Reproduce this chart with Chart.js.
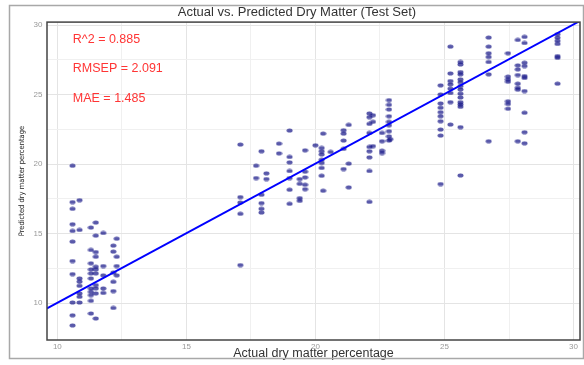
<!DOCTYPE html>
<html>
<head>
<meta charset="utf-8">
<script src="https://cdn.jsdelivr.net/npm/chart.js@4.4.1/dist/chart.umd.min.js"></script>
<style>
html,body{margin:0;padding:0;background:#fff;}
#wrap{width:584px;height:365px;}
</style>
</head>
<body>
<div id="wrap"><canvas id="dmChart" width="584" height="365"></canvas></div>
<script>

const actualDM=[
10.59,10.59,10.59,10.59,10.59,10.59,10.59,10.59,10.59,10.59,10.59,
10.86,10.86,10.86,10.86,10.86,10.86,10.86,10.86,
11.3,11.3,11.3,11.3,11.3,11.3,11.3,11.3,11.3,11.3,11.3,
11.49,11.49,11.49,11.49,11.49,11.49,11.49,11.49,11.49,11.49,11.49,
11.78,11.78,11.78,11.78,11.78,
12.17,12.17,12.17,12.17,12.17,12.17,
12.3,12.3,12.3,12.3,
17.09,17.09,17.09,17.09,17.09,
17.7,17.7,
17.91,17.91,17.91,17.91,17.91,
18.1,18.1,
18.59,18.59,
19.0,19.0,19.0,19.0,19.0,19.0,19.0,
19.39,19.39,19.39,19.39,
19.6,19.6,19.6,19.6,19.6,
20.0,
20.24,20.24,20.24,20.24,20.24,20.24,20.24,
20.3,20.3,
20.59,
21.09,21.09,21.09,21.09,21.09,
21.29,21.29,21.29,
22.09,22.09,22.09,22.09,22.09,22.09,22.09,22.09,22.09,
22.23,22.23,22.23,
22.58,22.58,22.58,22.58,
22.85,22.85,22.85,22.85,22.85,22.85,22.85,22.85,22.85,
22.9,
24.85,24.85,24.85,24.85,24.85,24.85,24.85,24.85,24.85,24.85,
25.23,25.23,25.23,25.23,25.23,25.23,25.23,25.23,
25.62,25.62,25.62,25.62,25.62,25.62,25.62,25.62,25.62,25.62,25.62,25.62,25.62,25.62,25.62,
26.71,26.71,26.71,26.71,26.71,26.71,26.71,
27.46,27.46,27.46,27.46,27.46,27.46,27.46,
27.84,27.84,27.84,27.84,27.84,27.84,27.84,27.84,
28.1,28.1,28.1,28.1,28.1,28.1,28.1,28.1,28.1,28.1,
29.38,29.38,29.38,29.38,29.38,29.38,29.38
];

const predictedDM=[
19.89,17.27,16.79,15.68,15.2,14.43,13.03,12.09,10.05,9.13,8.4,
17.41,15.27,11.78,11.55,11.25,10.7,10.46,10.05,
15.44,13.83,12.87,12.43,12.14,11.78,11.06,10.82,10.58,10.17,9.26,
15.8,14.86,13.68,13.34,12.62,12.43,12.14,11.3,11.06,10.7,8.9,
15.05,12.67,12.0,11.06,10.74,
14.14,13.71,12.2,11.54,10.87,9.66,
14.64,13.34,12.67,12.0,
21.41,17.63,17.24,16.43,12.74,
19.89,19.0,
20.93,17.8,17.2,16.79,16.52,
19.34,18.93,
21.48,20.78,
22.42,20.52,20.13,19.51,19.0,18.16,17.15,
18.93,18.59,17.56,17.36,
21.0,19.46,19.05,18.52,18.2,
21.36,
21.17,20.93,20.7,20.32,20.09,19.73,19.17,
22.2,18.09,
20.88,
22.44,22.2,21.7,21.1,19.65,
22.83,20.04,18.33,
23.65,23.38,22.9,22.25,21.24,20.93,20.49,19.51,17.29,
23.52,23.05,21.3,
22.25,21.65,20.97,20.8,
24.61,24.27,23.94,23.45,23.05,22.8,22.37,22.0,21.7,
21.8,
25.67,25.02,24.37,24.06,23.74,23.45,23.09,22.49,22.06,18.57,
28.46,26.53,25.98,25.74,25.43,25.12,24.46,22.85,
27.35,27.17,26.63,26.46,26.1,25.9,25.62,25.38,25.07,24.8,24.46,24.3,24.13,22.66,19.19,
29.11,28.46,27.98,27.71,27.35,26.46,21.65,
27.98,26.3,26.1,25.93,24.53,24.33,23.99,
28.94,27.11,26.82,26.41,25.79,25.5,25.36,21.65,
29.16,28.72,27.3,27.06,26.34,26.2,25.26,23.7,22.3,21.5,
29.35,29.1,28.87,28.65,27.78,27.65,25.79
];

// fitted line, read at the two plot edges
const fitX=[9.6,30.25];
const fitY=[9.62,30.3];

const xTickValues=[10,12.5,15,17.5,20,22.5,25,27.5,30];
const yTickValues=[10,12.5,15,17.5,20,22.5,25,27.5,30];

const statLabels=["R^2 = 0.885","RMSEP = 2.091","MAE = 1.485"];
const statAt=[29,26.85,24.75];

const FONT="'Liberation Sans', Arial, sans-serif";

Chart.defaults.font.family=FONT;

function dotImage(){

const c=document.createElement("canvas");
c.width=7;
c.height=5;
const g=c.getContext("2d");
g.fillStyle="rgba(10,10,130,0.68)";
g.beginPath();
g.ellipse(3.5,2.5,3,2.1,0,0,Math.PI*2);
g.fill();
return c;

}

function gridColor(ctx){
return ctx.tick && ctx.tick.value%5===0 ? "#e4e4e4" : "#f0f0f0";
}

const framePlugin={

id:"frame",

afterDatasetsDraw(chart){

const {ctx,scales:{x,y}}=chart;

ctx.save();
ctx.fillStyle="#ff3535";
ctx.font="12.5px "+FONT;
ctx.textBaseline="middle";
statLabels.forEach((t,i)=>{
ctx.fillText(t,x.getPixelForValue(10.6),y.getPixelForValue(statAt[i]));
});
ctx.restore();

},

afterDraw(chart){

const {ctx,chartArea}=chart;

ctx.save();
ctx.strokeStyle="#444";
ctx.lineWidth=1.5;
ctx.strokeRect(chartArea.left,chartArea.top,chartArea.right-chartArea.left,chartArea.bottom-chartArea.top);
ctx.strokeStyle="#a8a8a8";
ctx.lineWidth=1.5;
ctx.strokeRect(9.5,5.5,574,353);
ctx.restore();

}

};

const points=actualDM.map((v,i)=>({x:v,y:predictedDM[i]}));
const fitLine=fitX.map((v,i)=>({x:v,y:fitY[i]}));

new Chart(document.getElementById("dmChart"),{

type:"scatter",

data:{

datasets:[
{
type:"line",
data:fitLine,
borderColor:"#0000ff",
borderWidth:2,
pointRadius:0,
fill:false
},
{
data:points,
pointStyle:dotImage(),
pointRadius:3,
backgroundColor:"rgba(10,10,130,0.68)",
borderWidth:0
}
]

},

options:{

responsive:false,
animation:false,
events:[],

layout:{
padding:{left:12,right:2,top:0,bottom:0}
},

plugins:{
legend:{display:false},
tooltip:{enabled:false},
title:{
display:true,
text:"Actual vs. Predicted Dry Matter (Test Set)",
color:"#333",
font:{size:13,weight:"normal"},
padding:{top:5,bottom:1.5}
}
},

scales:{

x:{
type:"linear",
min:9.6,
max:30.25,
afterBuildTicks(s){s.ticks=xTickValues.map(v=>({value:v}));},
afterFit(s){s.height=25;},
grid:{color:gridColor,drawTicks:false},
border:{display:false},
ticks:{
padding:2,
color:"#999",
autoSkip:false,
maxRotation:0,
font:{size:8},
callback:v=>v%5===0?v:""
},
title:{
display:true,
text:"Actual dry matter percentage",
color:"#333",
font:{size:12.5},
padding:{top:0,bottom:3.5}
}
},

y:{
type:"linear",
min:7.35,
max:30.22,
afterBuildTicks(s){s.ticks=yTickValues.map(v=>({value:v}));},
afterFit(s){s.width=35;},
grid:{color:gridColor,drawTicks:false},
border:{display:false},
ticks:{
padding:4.5,
color:"#999",
autoSkip:false,
font:{size:8},
callback:v=>v%5===0?v:""
},
title:{
display:true,
text:"Predicted dry matter percentage",
color:"#222",
font:{size:7.5,family:"'Liberation Sans Narrow','DejaVu Sans Condensed','Liberation Sans',sans-serif"},
padding:{top:5.5}
}
}

}

},

plugins:[framePlugin]

});

</script>
</body>
</html>
